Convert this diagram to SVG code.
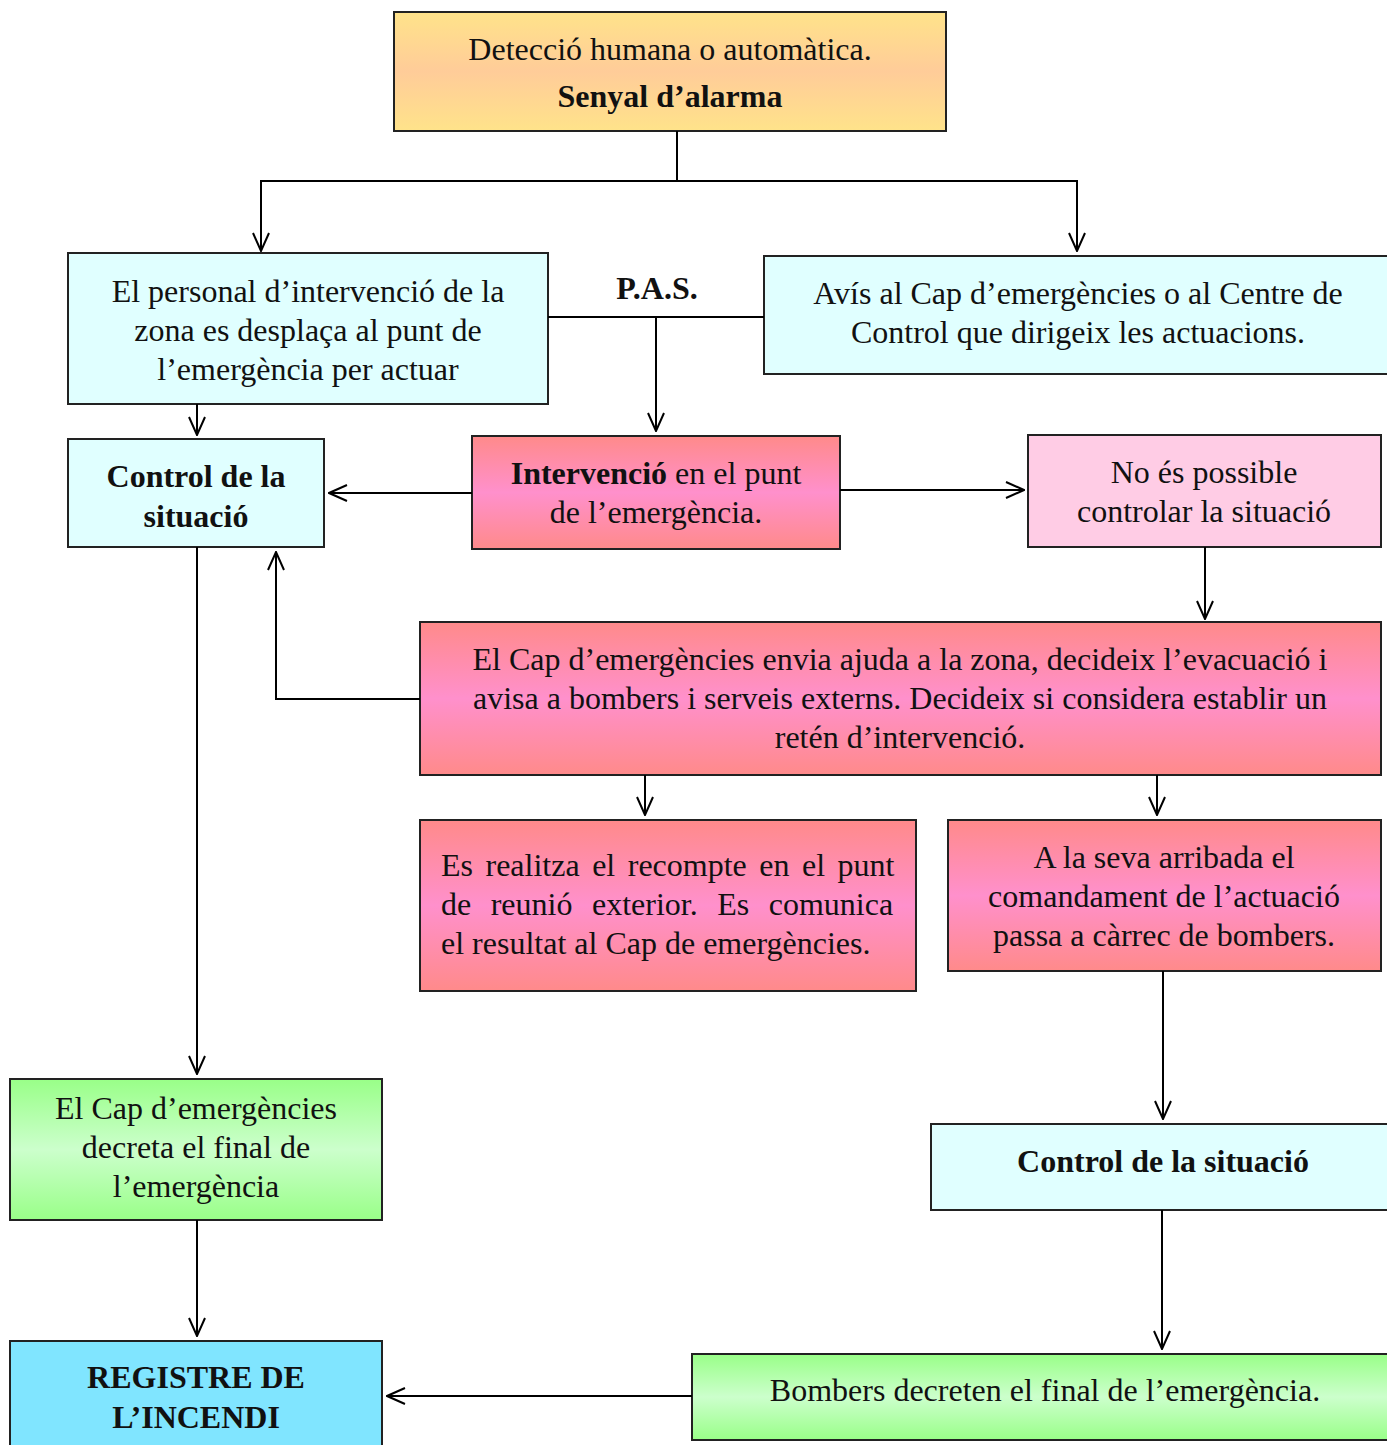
<svg xmlns="http://www.w3.org/2000/svg" width="1387" height="1445" viewBox="0 0 1387 1445">
<defs>
<linearGradient id="gY" x1="0" y1="0" x2="0" y2="1"><stop offset="0" stop-color="#FFE38A"/><stop offset="0.5" stop-color="#FFCC99"/><stop offset="1" stop-color="#FFE38A"/></linearGradient>
<linearGradient id="gR" x1="0" y1="0" x2="0" y2="1"><stop offset="0" stop-color="#FF8A8A"/><stop offset="0.5" stop-color="#FF90CC"/><stop offset="1" stop-color="#FF8A8A"/></linearGradient>
<linearGradient id="gG" x1="0" y1="0" x2="0" y2="1"><stop offset="0" stop-color="#99FF88"/><stop offset="0.5" stop-color="#CCFFCC"/><stop offset="1" stop-color="#99FF88"/></linearGradient>
<marker id="ar" viewBox="0 0 20 18" refX="19" refY="9" markerWidth="20" markerHeight="18" markerUnits="userSpaceOnUse" orient="auto"><path d="M1,1 L19,9 L1,17" fill="none" stroke="#000" stroke-width="2"/></marker>
<style>
.b{stroke:#222;stroke-width:2}
.t{font-family:"Liberation Serif","Times New Roman",serif;font-size:32px;fill:#111;text-anchor:middle}
.s{text-anchor:start}
.bd{font-weight:bold}
.c{fill:none;stroke:#000;stroke-width:2}
</style>
</defs>
<g id="n_detect"><rect class="b" x="394" y="12" width="552" height="119" fill="url(#gY)"/>
<text class="t" x="670" y="60">Detecció humana o automàtica.</text>
<text class="t bd" x="670" y="107">Senyal d’alarma</text></g>
<g id="n_personal"><rect class="b" x="68" y="253" width="480" height="151" fill="#E0FFFF"/>
<text class="t" x="308" y="302">El personal d’intervenció de la</text>
<text class="t" x="308" y="341">zona es desplaça al punt de</text>
<text class="t" x="308" y="380">l’emergència per actuar</text></g>
<g id="n_pas"><text class="t bd" x="657" y="299">P.A.S.</text></g>
<g id="n_avis"><rect class="b" x="764" y="256" width="640" height="118" fill="#E0FFFF"/>
<text class="t" x="1078" y="304">Avís al Cap d’emergències o al Centre de</text>
<text class="t" x="1078" y="343">Control que dirigeix les actuacions.</text></g>
<g id="n_control1"><rect class="b" x="68" y="439" width="256" height="108" fill="#E0FFFF"/>
<text class="t bd" x="196" y="487">Control de la</text>
<text class="t bd" x="196" y="527">situació</text></g>
<g id="n_intervencio"><rect class="b" x="472" y="436" width="368" height="113" fill="url(#gR)"/>
<text class="t" x="656" y="484"><tspan class="bd">Intervenció</tspan> en el punt</text>
<text class="t" x="656" y="523">de l’emergència.</text></g>
<g id="n_nopossible"><rect class="b" x="1028" y="435" width="353" height="112" fill="#FFCCE5"/>
<text class="t" x="1204" y="483">No és possible</text>
<text class="t" x="1204" y="522">controlar la situació</text></g>
<g id="n_cap"><rect class="b" x="420" y="622" width="961" height="153" fill="url(#gR)"/>
<text class="t" x="900" y="670">El Cap d’emergències envia ajuda a la zona, decideix l’evacuació i</text>
<text class="t" x="900" y="709">avisa a bombers i serveis externs. Decideix si considera establir un</text>
<text class="t" x="900" y="748">retén d’intervenció.</text></g>
<g id="n_recompte"><rect class="b" x="420" y="820" width="496" height="171" fill="url(#gR)"/>
<text class="t s" x="441" y="876" style="word-spacing:4.5px">Es realitza el recompte en el punt</text>
<text class="t s" x="441" y="915" style="word-spacing:11.5px">de reunió exterior. Es comunica</text>
<text class="t s" x="441" y="954">el resultat al Cap de emergències.</text></g>
<g id="n_arribada"><rect class="b" x="948" y="820" width="433" height="151" fill="url(#gR)"/>
<text class="t" x="1164" y="868">A la seva arribada el</text>
<text class="t" x="1164" y="907">comandament de l’actuació</text>
<text class="t" x="1164" y="946">passa a càrrec de bombers.</text></g>
<g id="n_control2"><rect class="b" x="931" y="1124" width="470" height="86" fill="#E0FFFF"/>
<text class="t bd" x="1163" y="1172">Control de la situació</text></g>
<g id="n_final1"><rect class="b" x="10" y="1079" width="372" height="141" fill="url(#gG)"/>
<text class="t" x="196" y="1119">El Cap d’emergències</text>
<text class="t" x="196" y="1158">decreta el final de</text>
<text class="t" x="196" y="1197">l’emergència</text></g>
<g id="n_bombers"><rect class="b" x="692" y="1354" width="710" height="86" fill="url(#gG)"/>
<text class="t" x="1045" y="1401">Bombers decreten el final de l’emergència.</text></g>
<g id="n_registre"><rect class="b" x="10" y="1341" width="372" height="120" fill="#80E5FF"/>
<text class="t bd" x="196" y="1388">REGISTRE DE</text>
<text class="t bd" x="196" y="1428">L’INCENDI</text></g>
<g id="connectors">
<path class="c" d="M677,131 V181 H261 V251" marker-end="url(#ar)"/>
<path class="c" d="M677,181 H1077 V251" marker-end="url(#ar)"/>
<path class="c" d="M548,317 H764"/>
<path class="c" d="M656,317 V431" marker-end="url(#ar)"/>
<path class="c" d="M197,404 V435" marker-end="url(#ar)"/>
<path class="c" d="M472,493 H329" marker-end="url(#ar)"/>
<path class="c" d="M840,490 H1024" marker-end="url(#ar)"/>
<path class="c" d="M1205,547 V619" marker-end="url(#ar)"/>
<path class="c" d="M420,699 H276 V552" marker-end="url(#ar)"/>
<path class="c" d="M197,547 V1074" marker-end="url(#ar)"/>
<path class="c" d="M645,775 V815" marker-end="url(#ar)"/>
<path class="c" d="M1157,775 V815" marker-end="url(#ar)"/>
<path class="c" d="M1163,971 V1119" marker-end="url(#ar)"/>
<path class="c" d="M1162,1210 V1349" marker-end="url(#ar)"/>
<path class="c" d="M197,1220 V1336" marker-end="url(#ar)"/>
<path class="c" d="M692,1396 H387" marker-end="url(#ar)"/>
</g>
</svg>
